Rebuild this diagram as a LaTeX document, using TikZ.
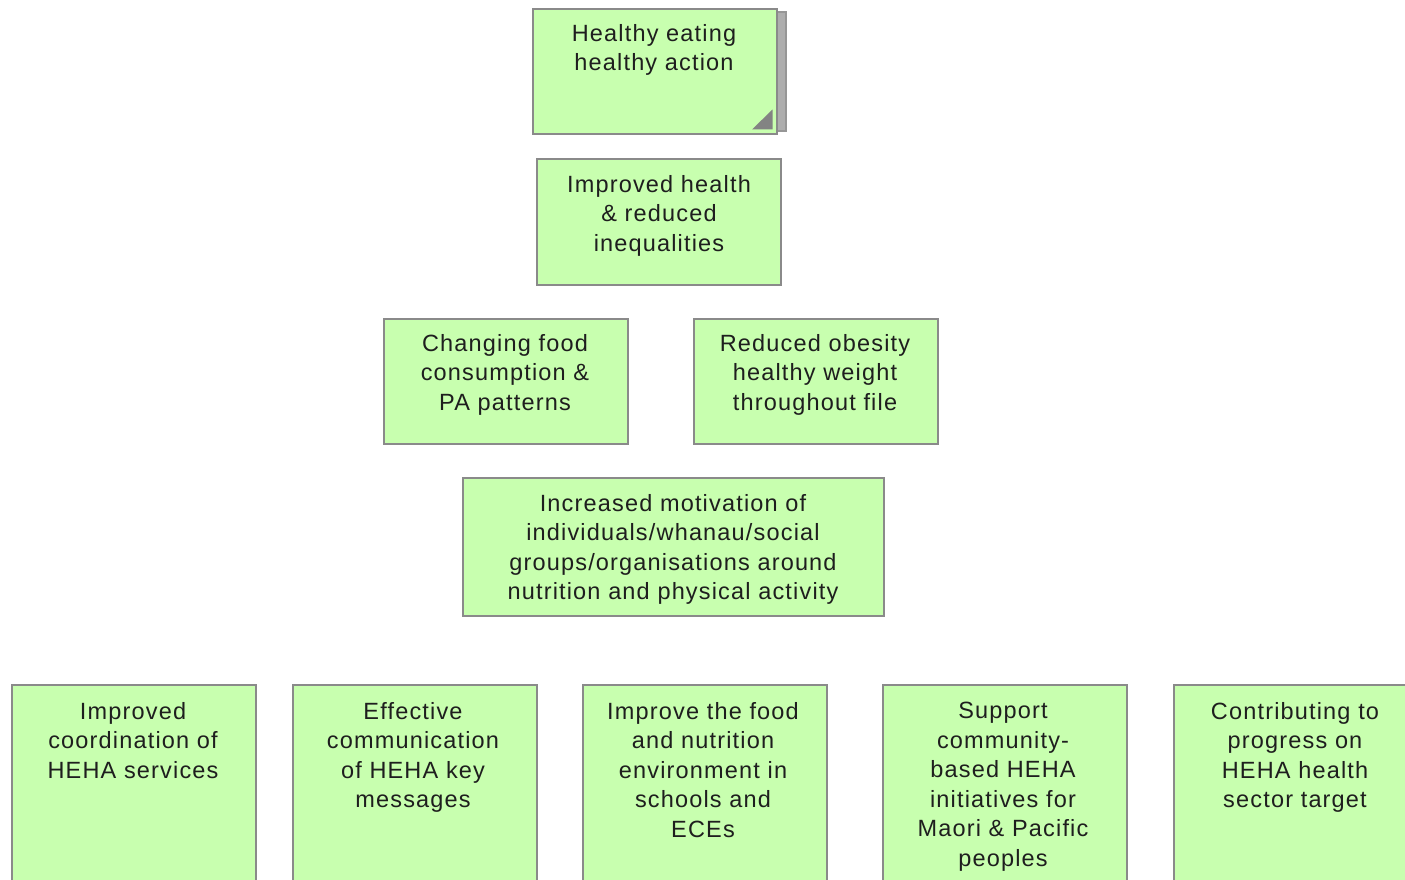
\documentclass[tikz,border=0pt]{standalone}
\usepackage{fontspec}
\setmainfont[LetterSpace=5]{Liberation Sans}
\definecolor{boxfill}{HTML}{C8FFAF}
\definecolor{boxline}{HTML}{8A8A8A}
\definecolor{txtcol}{HTML}{1E1E1E}
\begin{document}
\begin{tikzpicture}[x=1pt,y=-1pt,
  box/.style={draw=boxline,fill=boxfill,line width=2.4pt,rectangle,inner sep=0pt},
  txt/.style={anchor=north,align=center,inner sep=0pt,text=txtcol,
    font=\fontsize{23.5}{29.5}\selectfont}]
\useasboundingbox (0,0) rectangle (1405,880);
\clip (0,0) rectangle (1405,880);
\fill[white] (0,0) rectangle (1405,880);
% top box with stacked sheet
\fill[boxline!70] (540,12) rectangle (786,131);
\draw[boxline!90,line width=1.2pt] (540,12) rectangle (786,131);
\node[box,minimum width=244pt,minimum height=125pt] (top) at (655,71.5) {};
\fill[boxline!95!black] (752,129.5) -- (772.5,129.5) -- (772.5,109.5) -- cycle;
\node[txt] (toptxt) at (654,24) {Healthy eating\\healthy action};
% level 2
\node[box,minimum width=244pt,minimum height=126pt] (health) at (659,222) {};
\node[txt] at (659,175) {Improved health\\\& reduced\\inequalities};
% level 3
\node[box,minimum width=244pt,minimum height=125pt] (food) at (506,381.5) {};
\node[txt] at (505,334) {Changing food\\consumption \&\\PA patterns};
\node[box,minimum width=244pt,minimum height=125pt] (obes) at (816,381.5) {};
\node[txt] at (815,334) {Reduced obesity\\healthy weight\\throughout file};
% level 4
\node[box,minimum width=421pt,minimum height=138pt] (motiv) at (673.5,547) {};
\node[txt] at (673,494) {Increased motivation of\\individuals/whanau/social\\groups/organisations around\\nutrition and physical activity};
% bottom row
\node[box,minimum width=244pt,minimum height=260pt] (b1) at (134,815) {};
\node[txt] at (133,702) {Improved\\coordination of\\HEHA services};
\node[box,minimum width=244pt,minimum height=260pt] (b2) at (415,815) {};
\node[txt] at (413,702) {Effective\\communication\\of HEHA key\\messages};
\node[box,minimum width=244pt,minimum height=260pt] (b3) at (705,815) {};
\node[txt] at (703,702) {Improve the food\\and nutrition\\environment in\\schools and\\ECEs};
\node[box,minimum width=244pt,minimum height=260pt] (b4) at (1005,815) {};
\node[txt] at (1003,702) {Support\\community-\\based HEHA\\initiatives for\\Maori \& Pacific\\peoples};
\node[box,minimum width=244pt,minimum height=260pt] (b5) at (1296,815) {};
\node[txt] at (1295,702) {Contributing to\\progress on\\HEHA health\\sector target};
\end{tikzpicture}
\end{document}
